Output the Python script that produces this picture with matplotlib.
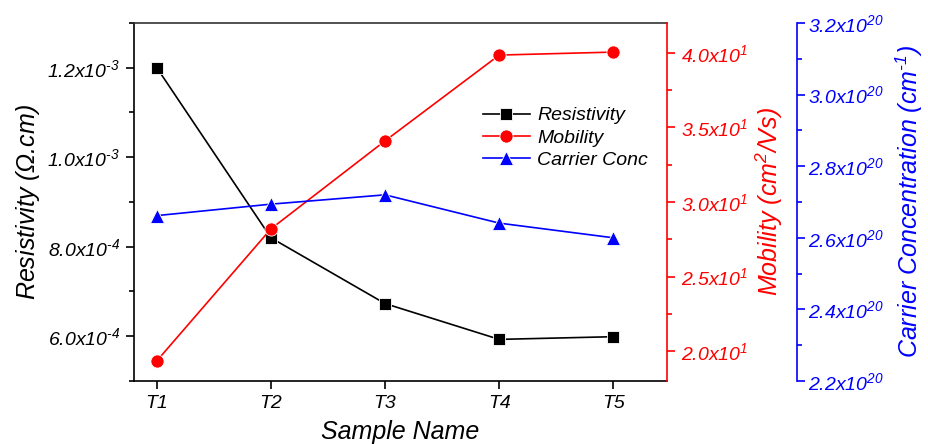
import matplotlib
matplotlib.use("Agg")
import math
import matplotlib.pyplot as plt
from matplotlib.ticker import FixedLocator, MultipleLocator, FuncFormatter

plt.rcParams['font.family'] = ['Liberation Sans', 'DejaVu Sans']
plt.rcParams['font.style'] = 'italic'
plt.rcParams['mathtext.fontset'] = 'custom'
plt.rcParams['mathtext.rm'] = 'Liberation Sans:italic'
plt.rcParams['mathtext.it'] = 'Liberation Sans:italic'
plt.rcParams['mathtext.bf'] = 'Liberation Sans:italic:bold'
plt.rcParams['mathtext.default'] = 'it'

samples = ["T1", "T2", "T3", "T4", "T5"]
resistivity = [1.2e-3, 8.2e-4, 6.73e-4, 5.93e-4, 5.99e-4]
mobility = [19.35, 28.2, 34.1, 39.85, 40.05]
carrier = [2.662e20, 2.694e20, 2.72e20, 2.641e20, 2.600e20]

res_ticks = [6.0e-4, 8.0e-4, 1.0e-3, 1.2e-3]
mob_ticks = [20, 25, 30, 35, 40]
car_ticks = [2.2e20, 2.4e20, 2.6e20, 2.8e20, 3.0e20, 3.2e20]


def sci(v, pos=None):
    if v == 0:
        return "0"
    e = int(math.floor(math.log10(abs(v)) + 1e-9))
    m = v / 10 ** e
    if e < 0:
        ex = r"\text{-}%d" % (-e)
    else:
        ex = "%d" % e
    return r"$%.1f\mathrm{x}10^{%s}$" % (m, ex)


fig = plt.figure(figsize=(9.29, 4.44), dpi=100)
ax = fig.add_axes([134/929, 1-381/444, (667-134)/929, (381-23)/444])
ax2 = ax.twinx()
ax3 = ax.twinx()

x = list(range(1, len(samples) + 1))
l1, = ax.plot(x, resistivity, color='black', marker='s', markersize=8.5, lw=1.2,
              markeredgecolor='white', markeredgewidth=0.6, label='Resistivity')
l2, = ax2.plot(x, mobility, color='red', marker='o', markersize=9.5, lw=1.2,
               markeredgecolor='white', markeredgewidth=0.6, label='Mobility')
l3, = ax3.plot(x, carrier, color='blue', marker='^', markersize=10.5, lw=1.2,
               markeredgecolor='white', markeredgewidth=0.6, label='Carrier Conc')

ax.set_xlim(0.8, 5.47)
ax.set_xticks(x)
ax.set_xticklabels(samples)
ax.set_ylim(5.0e-4, 1.3e-3)
ax.yaxis.set_major_locator(FixedLocator(res_ticks))
ax.yaxis.set_minor_locator(MultipleLocator(1e-4))
ax.yaxis.set_major_formatter(FuncFormatter(sci))

ax2.set_ylim(18, 42)
ax2.yaxis.set_major_locator(FixedLocator(mob_ticks))
ax2.yaxis.set_minor_locator(MultipleLocator(2.5))
ax2.yaxis.set_major_formatter(FuncFormatter(sci))

ax3.set_ylim(2.2e20, 3.2e20)
ax3.yaxis.set_major_locator(FixedLocator(car_ticks))
ax3.yaxis.set_minor_locator(MultipleLocator(0.1e20))
ax3.yaxis.set_major_formatter(FuncFormatter(sci))
ax3.spines['right'].set_position(('axes', (797-134)/533))

fs_tick = 14
ax.tick_params(axis='both', which='major', direction='out', length=6, width=1.2, labelsize=fs_tick, pad=4)
ax.tick_params(axis='y', which='minor', direction='out', length=3.5, width=1.2)
ax.tick_params(axis='x', which='minor', bottom=False)
ax2.tick_params(axis='y', which='major', direction='out', length=6, width=1.2, labelsize=fs_tick,
                colors='red', pad=4)
ax2.tick_params(axis='y', which='minor', direction='out', length=3.5, width=1.2, colors='red')
ax3.tick_params(axis='y', which='major', direction='out', length=6, width=1.2, labelsize=fs_tick,
                colors='blue', pad=2)
ax3.tick_params(axis='y', which='minor', direction='out', length=3.5, width=1.2, colors='blue')

for a in (ax, ax2, ax3):
    for s in a.spines.values():
        s.set_linewidth(1.2)
ax2.spines['right'].set_color('red')
ax3.spines['right'].set_color('blue')
for a in (ax2, ax3):
    a.spines['left'].set_visible(False)
    a.spines['top'].set_visible(False)
    a.spines['bottom'].set_visible(False)
ax.spines['right'].set_visible(False)
ax.spines['top'].set_color('#333333')

ax.set_xlabel('Sample Name', fontsize=18, labelpad=6)
ax.set_ylabel(r'Resistivity ($\Omega$.cm)', fontsize=18, labelpad=4)
ax2.set_ylabel(r'Mobility (cm$^2$/Vs)', fontsize=18, color='red', labelpad=4)
ax3.set_ylabel(r'Carrier Concentration (cm$^{\text{-}1}$)', fontsize=18, color='blue', labelpad=7)

leg = ax3.legend(handles=[l1, l2, l3], loc='upper left', bbox_to_anchor=(0.622, 0.815),
                 frameon=False, fontsize=14, handlelength=2.4, handletextpad=0.4,
                 labelspacing=0.25)

fig.savefig('out.png', dpi=100)
